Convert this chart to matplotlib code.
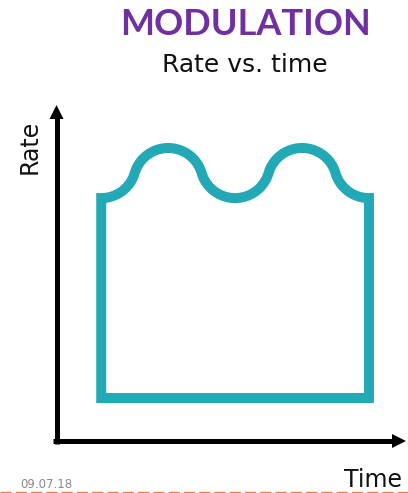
import numpy as np
import matplotlib
matplotlib.use("Agg")
import matplotlib.pyplot as plt
from matplotlib.patches import Polygon
from matplotlib.lines import Line2D

W, H, DPI = 408, 493, 100

# Modulated rate profile (time / rate in axis units)
t_on, t_off = 1.28, 8.94
rate_floor = 1.28
rate_trough = 7.23
rate_peak = 8.72
crest_times = [3.195, 7.025]
trough_times = [1.28, 5.11, 8.94]

title = "MODULATION"
subtitle = "Rate vs. time"
x_label = "Time"
y_label = "Rate"
date_text = "09.07.18"

TEAL = "#22a9b5"
PURPLE = "#7030a0"
TITLE_FONT = "Lato"
FONT = "DejaVu Sans"

fig = plt.figure(figsize=(W / DPI, H / DPI), dpi=DPI)


def fx(px):
    return px / W


def fy(py):
    return 1 - py / H


# Plot area: origin of the arrows and their tips
ox, oy, tip_x, tip_y = 56.5, 441.0, 406.0, 105.0
ax = fig.add_axes([fx(ox), fy(oy), fx(tip_x - ox), (oy - tip_y) / H])
ax.set_xlim(0, 10)
ax.set_ylim(0, 10)
ax.axis("off")

# ratio of vertical to horizontal pixel size per unit, to keep arcs circular
px_x = (tip_x - ox) / 10
px_y = (oy - tip_y) / 10
k = px_y / px_x

# scalloped top: alternating circular arcs that meet tangentially
extrema = sorted([(t, "c") for t in crest_times] + [(t, "v") for t in trough_times])
drop = (rate_peak - rate_trough) * k

xs, ys = [], []
for (t0, k0), (t1, k1) in zip(extrema[:-1], extrema[1:]):
    half = t1 - t0
    r = (half ** 2 + drop ** 2) / (4 * drop)
    seg = np.linspace(t0, t1, 300)
    mid = 0.5 * (t0 + t1)
    for x in seg:
        t, kind = (t0, k0) if x <= mid else (t1, k1)
        d = min(abs(x - t), r)
        sag = r - np.sqrt(r * r - d * d)
        y = rate_peak - sag / k if kind == "c" else rate_trough + sag / k
        xs.append(x)
        ys.append(y)

outline = [(t_off, rate_trough), (t_off, rate_floor), (t_on, rate_floor), (t_on, rate_trough)]
outline += list(zip(xs, ys))[:-1]
ax.add_patch(Polygon(outline, closed=True, fill=False, edgecolor=TEAL,
                     linewidth=7.2, joinstyle="miter", clip_on=False))

# arrows for the axes
lw_axis = 3.6
ax.add_line(Line2D([-0.1, 9.6], [0, 0], color="black", lw=lw_axis,
                   solid_capstyle="butt", clip_on=False))
ax.add_line(Line2D([0, 0], [-0.1, 9.6], color="black", lw=lw_axis,
                   solid_capstyle="butt", clip_on=False))
hx = 14 / px_x
hw = 7 / px_y
ax.add_patch(Polygon([(10, 0), (10 - hx, hw), (10 - hx, -hw)], closed=True,
                     facecolor="black", edgecolor="none", clip_on=False))
hy = 14 / px_y
hwx = 7 / px_x
ax.add_patch(Polygon([(0, 10), (-hwx, 10 - hy), (hwx, 10 - hy)], closed=True,
                     facecolor="black", edgecolor="none", clip_on=False))

# texts
fig.text(fx(245.5), fy(35), title, ha="center", va="baseline", color=PURPLE,
         fontsize=26, fontweight="bold", family=TITLE_FONT)
fig.text(fx(245), fy(72), subtitle, ha="center", va="baseline", color="#111111",
         fontsize=18, family=FONT)
fig.text(fx(30), fy(147), y_label, ha="center", va="center", rotation=90,
         color="#111111", fontsize=17, family=FONT)
fig.text(fx(373), fy(487), x_label, ha="center", va="baseline", color="#111111",
         fontsize=17, family=FONT)
fig.text(fx(20), fy(488), date_text, ha="left", va="baseline", color="#8a8a8a",
         fontsize=8.5, family=FONT)

# dashed footer rule
fig.add_artist(Line2D([0, 1], [fy(492), fy(492)], color="#ed7d31", lw=1.0,
                      linestyle=(0, (8, 3))))

fig.savefig("out.png", dpi=DPI)
